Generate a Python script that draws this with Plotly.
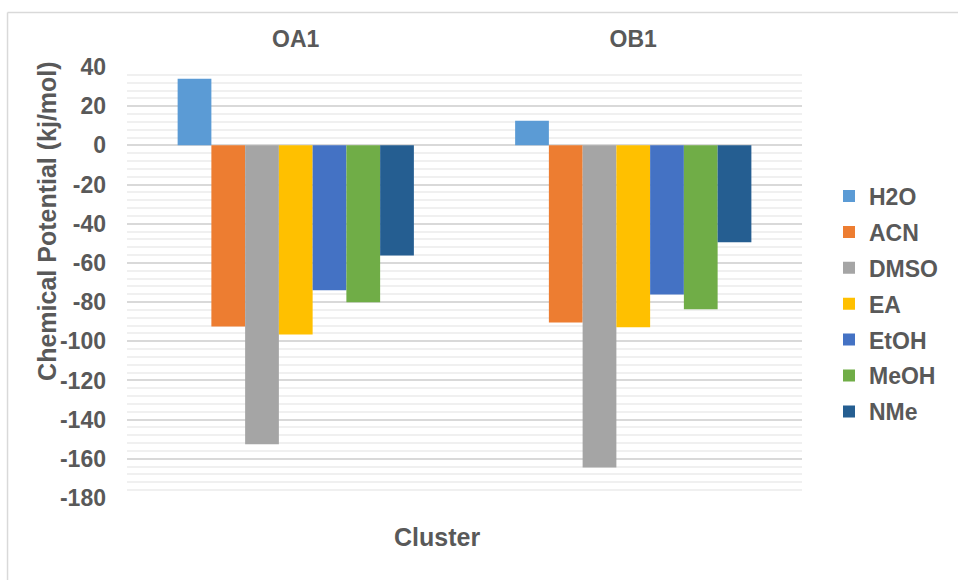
import plotly.graph_objects as go

# Clusters on the category axis
clusters = ["OA1", "OB1"]

# Chemical potential (kJ/mol) for each solvent, one value per cluster
h2o = [34.0, 12.6]
acn = [-92.4, -90.4]
dmso = [-152.6, -164.4]
ea = [-96.5, -92.9]
etoh = [-74.0, -76.1]
meoh = [-80.1, -83.7]
nme = [-56.2, -49.5]

solvents = ["H2O", "ACN", "DMSO", "EA", "EtOH", "MeOH", "NMe"]
series = [h2o, acn, dmso, ea, etoh, meoh, nme]
colors = ["#5B9BD5", "#ED7D31", "#A5A5A5", "#FFC000", "#4472C4", "#70AD47", "#255E91"]

y_ticks = list(range(-180, 41, 20))
y_tick_labels = [str(v) for v in y_ticks]  # plain hyphen-minus labels

TEXT = "#595959"
FAMILY = "Liberation Sans, Arial, sans-serif"

fig = go.Figure()
for name, vals, col in zip(solvents, series, colors):
    fig.add_trace(go.Bar(
        x=clusters, y=vals, name=name, marker_color=col,
        marker_line_width=0, legendgroup=name,
    ))

fig.update_layout(
    width=958, height=580,
    margin=dict(l=127, r=156, t=67, b=82),
    paper_bgcolor="white", plot_bgcolor="white",
    barmode="group", bargap=0.3, bargroupgap=0,
    font=dict(family=FAMILY, color=TEXT, size=23, weight="bold"),
    showlegend=True,
    legend=dict(
        x=1.04, xanchor="left", y=0.45, yanchor="middle",
        font=dict(size=23, color=TEXT, family=FAMILY, weight="bold"),
        tracegroupgap=3, bgcolor="rgba(0,0,0,0)",
    ),
    xaxis=dict(
        side="top", showgrid=False, showline=False, ticks="",
        tickfont=dict(size=23, color=TEXT, family=FAMILY, weight="bold"),
        ticklabelstandoff=14,
    ),
    yaxis=dict(
        range=[-180, 40], tickvals=y_ticks, ticktext=y_tick_labels, ticks="",
        showgrid=True, gridcolor="#D9D9D9", gridwidth=1.5,
        zeroline=True, zerolinecolor="#D9D9D9", zerolinewidth=1.5,
        showline=False,
        minor=dict(dtick=4, showgrid=True, gridcolor="#F0F0F0", gridwidth=1.5),
        tickfont=dict(size=23, color=TEXT, family=FAMILY, weight="bold"),
        ticklabelstandoff=20,
    ),
)

# Vertical axis title
fig.add_annotation(
    text="Chemical Potential (kj/mol)", xref="paper", yref="paper",
    x=-0.1185, y=0.643, xanchor="center", yanchor="middle",
    textangle=-90, showarrow=False,
    font=dict(size=25, color=TEXT, family=FAMILY, weight="bold"),
)

# Horizontal axis title placed below the plot (category labels sit on top)
fig.add_annotation(
    text="Cluster", xref="paper", yref="paper", x=0.459, y=-0.09,
    xanchor="center", yanchor="middle", showarrow=False,
    font=dict(size=25, color=TEXT, family=FAMILY, weight="bold"),
)

# Light frame around the chart area
fig.add_shape(type="line", xref="paper", yref="paper",
              x0=-0.177, x1=1.25, y0=1.1265, y1=1.1265,
              line=dict(color="#D9D9D9", width=1.5))
fig.add_shape(type="line", xref="paper", yref="paper",
              x0=-0.177, x1=-0.177, y0=1.1265, y1=-0.2,
              line=dict(color="#D9D9D9", width=1.5))

fig.write_html("out.html")
